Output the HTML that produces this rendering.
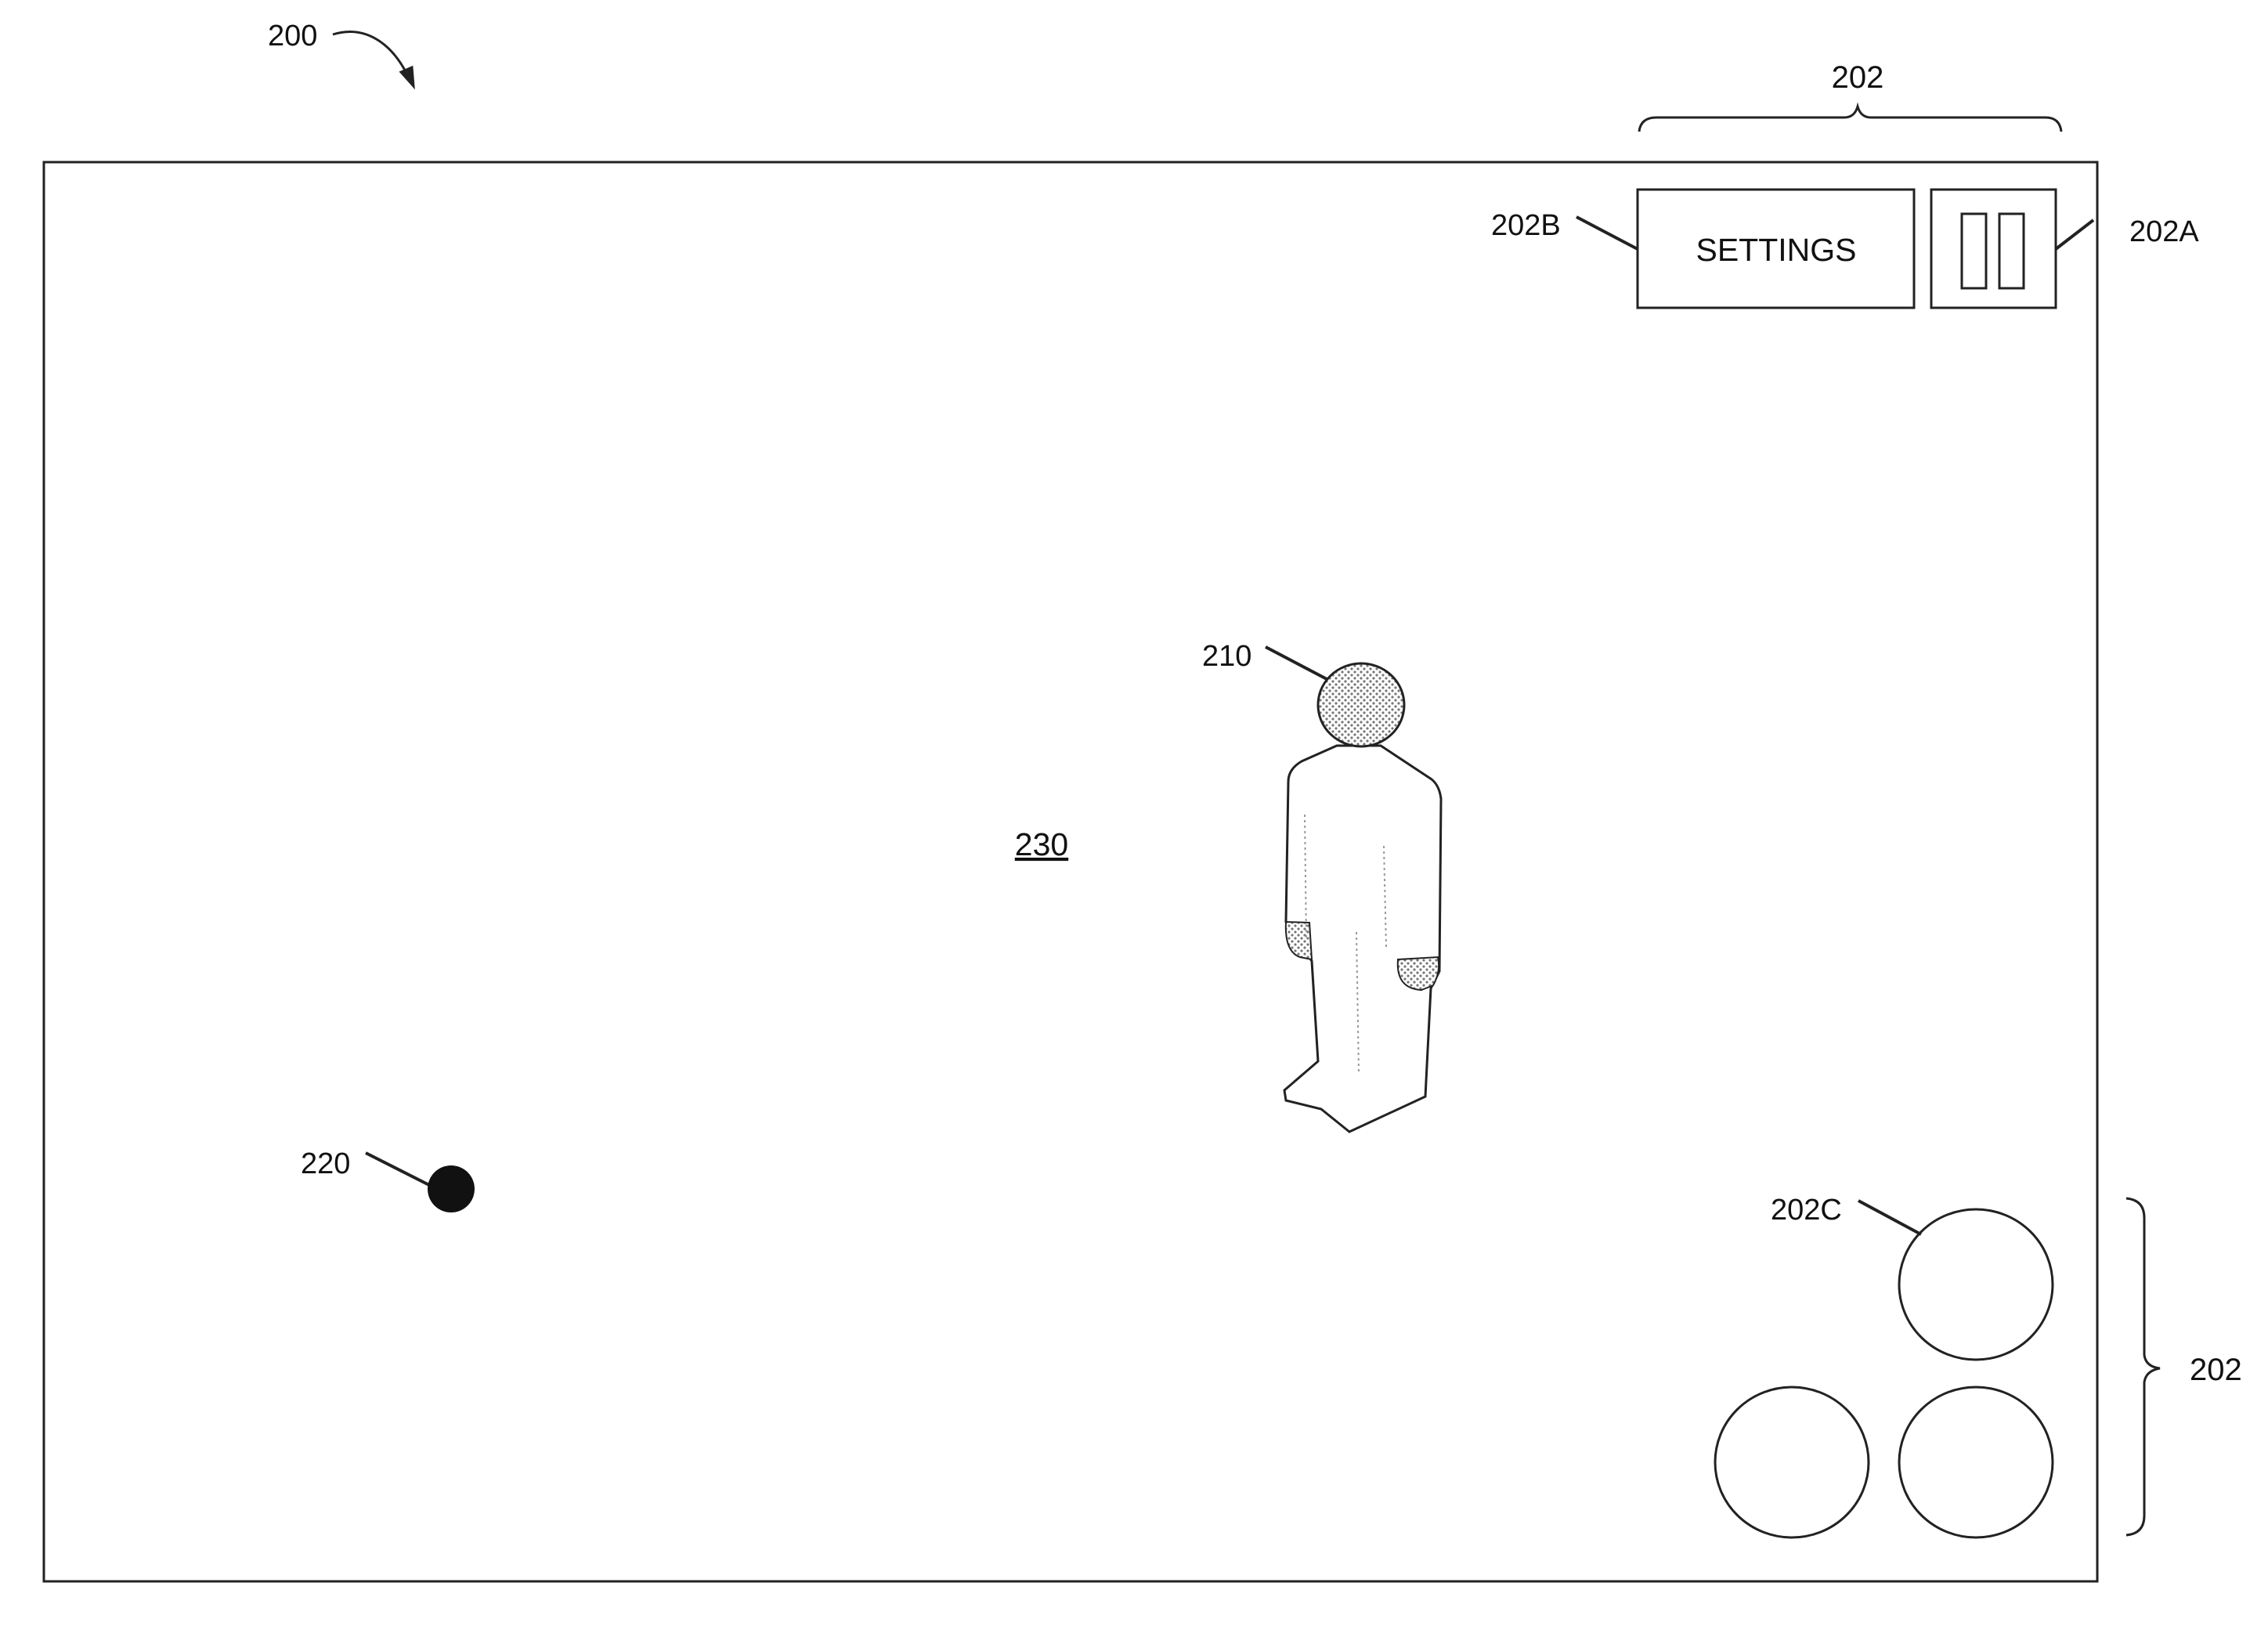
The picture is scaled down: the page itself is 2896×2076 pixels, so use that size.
<!DOCTYPE html>
<html><head><meta charset="utf-8"><style>
html,body{margin:0;padding:0;background:#fff;}
svg{display:block;}
text{font-family:"Liberation Sans",sans-serif;fill:#111;}
</style></head><body>
<svg width="2896" height="2076" viewBox="0 0 2896 2076" xmlns="http://www.w3.org/2000/svg">
<defs>
<pattern id="dots" width="8" height="8" patternUnits="userSpaceOnUse">
<rect width="8" height="8" fill="#fff"/>
<circle cx="2" cy="2" r="1.6" fill="#777"/>
<circle cx="6" cy="6" r="1.6" fill="#777"/>
</pattern>
</defs>
<g stroke="#222" fill="none" stroke-width="3">
<!-- main frame -->
<rect x="56" y="207" width="2622" height="1812"/>
<!-- 200 arrow -->
<path d="M425 44 C470 30 505 60 524 104" stroke-width="3"/>
<path d="M512 92 L528 110 L526 86 Z" fill="#222"/>
<!-- top brace -->
<path d="M2093 168 Q2095 150 2115 150 L2355 150 Q2368 150 2372 136 Q2376 150 2389 150 L2612 150 Q2630 150 2632 168"/>
<!-- settings box -->
<rect x="2091" y="242" width="353" height="151"/>
<rect x="2466" y="242" width="159" height="151"/>
<rect x="2505" y="273" width="31" height="95"/>
<rect x="2553" y="273" width="31" height="95"/>
<!-- leaders -->
<line x1="2013" y1="277" x2="2091" y2="318" stroke-width="4"/>
<line x1="2673" y1="281" x2="2625" y2="318" stroke-width="4"/>
<line x1="1616" y1="826" x2="1696" y2="868" stroke-width="4"/>
<line x1="467" y1="1472" x2="550" y2="1514" stroke-width="4"/>
<line x1="2373" y1="1533" x2="2453" y2="1576" stroke-width="4"/>
<!-- circles -->
<ellipse cx="2523" cy="1640" rx="98" ry="96"/>
<ellipse cx="2288" cy="1867" rx="98" ry="96"/>
<ellipse cx="2523" cy="1867" rx="98" ry="96"/>
<!-- right brace -->
<path d="M2715 1530 Q2738 1532 2738 1555 L2738 1730 Q2740 1745 2758 1747 Q2740 1750 2738 1765 L2738 1935 Q2738 1958 2715 1960"/>
<!-- person body -->
<path d="M1707 952 L1662 972 Q1645 982 1645 998 L1642 1177 L1675 1227 L1683 1355 L1640 1392 L1642 1405 L1687 1416 L1723 1445 L1820 1400 L1827 1262 L1838 1240 L1840 1020 Q1838 1003 1828 995 L1763 952 Z" fill="#fff"/>
<path d="M1642 1177 Q1640 1215 1660 1222 L1675 1225 L1672 1178 Z" fill="url(#dots)" stroke-width="2"/>
<path d="M1785 1225 Q1782 1262 1815 1264 L1830 1258 Q1840 1240 1836 1222 Z" fill="url(#dots)" stroke-width="2"/>
<line x1="1666" y1="1040" x2="1668" y2="1200" stroke="#999" stroke-width="2" stroke-dasharray="3 4"/>
<line x1="1732" y1="1190" x2="1735" y2="1370" stroke="#999" stroke-width="2" stroke-dasharray="3 4"/>
<line x1="1767" y1="1080" x2="1770" y2="1210" stroke="#999" stroke-width="2" stroke-dasharray="3 4"/>
<ellipse cx="1738" cy="900" rx="55" ry="53" fill="url(#dots)"/>
</g>
<circle cx="576" cy="1518" r="30" fill="#111"/>
<g font-size="38">
<text x="342" y="58">200</text>
<text x="2372" y="112" text-anchor="middle" font-size="40">202</text>
<text x="1904" y="300">202B</text>
<text x="2719" y="308">202A</text>
<text x="2268" y="333" text-anchor="middle" font-size="41">SETTINGS</text>
<text x="1535" y="850">210</text>
<text x="1330" y="1092" text-anchor="middle" font-size="41" text-decoration="underline">230</text>
<text x="384" y="1498">220</text>
<text x="2261" y="1557">202C</text>
<text x="2796" y="1762" font-size="40">202</text>
</g>
</svg>
</body></html>
